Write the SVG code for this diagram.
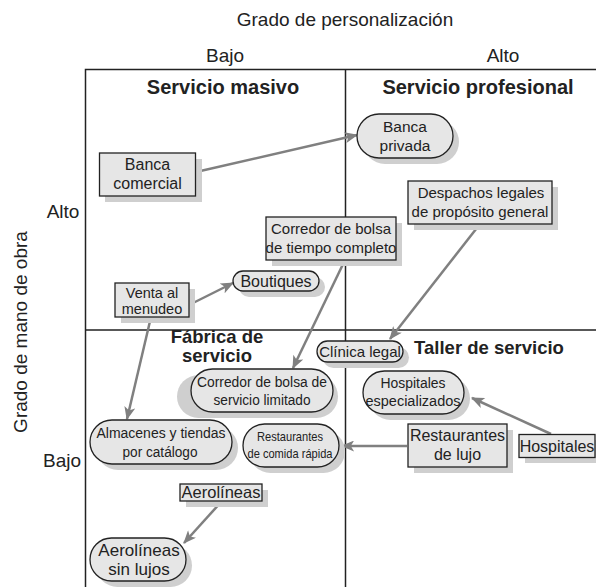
<svg xmlns="http://www.w3.org/2000/svg" width="596" height="587" viewBox="0 0 596 587">
<defs>
<style>
text{font-family:"Liberation Sans",Arial,sans-serif;fill:#222;}
.ax{font-size:19px;}
.q{font-size:20px;font-weight:bold;}
.q2{font-size:18.5px;font-weight:bold;}
.t{font-size:15.5px;text-anchor:middle;}
.s{font-size:13px;text-anchor:middle;}
.box{fill:#e6e6e6;stroke:#222;stroke-width:1.3;}
.sh{fill:#cfcfcf;}
.grid{stroke:#222;stroke-width:1.5;fill:none;}
.con{stroke:#808080;stroke-width:2.5;fill:none;marker-end:url(#ah);}
</style>
<marker id="ah" viewBox="0 0 12 10" refX="11" refY="5" markerWidth="6" markerHeight="4.4" orient="auto" markerUnits="strokeWidth">
<path d="M0,0 L12,5 L0,10 L3,5 z" fill="#808080"/>
</marker>
</defs>
<rect width="596" height="587" fill="#fff"/>
<g id="axes">
<text class="ax" x="345" y="26" text-anchor="middle">Grado de personalización</text>
<text class="ax" x="225" y="62" text-anchor="middle">Bajo</text>
<text class="ax" x="503" y="62" text-anchor="middle">Alto</text>
<text class="ax" x="0" y="0" text-anchor="middle" transform="translate(27,332) rotate(-90)">Grado de mano de obra</text>
<text class="ax" x="63" y="218" text-anchor="middle">Alto</text>
<text class="ax" x="62" y="467" text-anchor="middle">Bajo</text>
</g>
<g id="grid">
<path class="grid" d="M85.5,587 V69.5 H596 M345.5,69.5 V587 M85.5,330 H596"/>
</g>
<g id="quadrants">
<text class="q" x="223" y="94" text-anchor="middle">Servicio masivo</text>
<text class="q" x="478" y="94" text-anchor="middle">Servicio profesional</text>
<text class="q2" x="217" y="343" text-anchor="middle">Fábrica de</text>
<text class="q2" x="217" y="362" text-anchor="middle">servicio</text>
<text class="q2" x="489" y="354" text-anchor="middle">Taller de servicio</text>
</g>
<g id="connectors">
<path class="con" d="M196,172 L357,135"/>
<path class="con" d="M189,305 L233,283"/>
<path class="con" d="M151,317 L127,419"/>
<path class="con" d="M345,260 L293,368"/>
<path class="con" d="M480,224 L390,339"/>
<path class="con" d="M551,434 L472,398"/>
<path class="con" d="M407,446 L342,446"/>
<path class="con" d="M222,501 L184,543"/>
</g>
<g id="banca-comercial">
<rect class="sh" x="105" y="159" width="97" height="43"/>
<rect class="box" x="99.5" y="153" width="96" height="43"/>
<text class="t" x="147.5" y="170" style="font-size:16px">Banca</text>
<text class="t" x="147.5" y="189" style="font-size:16px">comercial</text>
</g>
<g id="banca-privada">
<rect class="sh" x="363" y="120" width="96" height="44" rx="22"/>
<rect class="box" x="357" y="114" width="96" height="44" rx="22"/>
<text class="t" x="405" y="132">Banca</text>
<text class="t" x="405" y="151">privada</text>
</g>
<g id="despachos">
<rect class="sh" x="414" y="187" width="144" height="43"/>
<rect class="box" x="408" y="181" width="144" height="43"/>
<text class="t" x="481" y="198" style="font-size:15px">Despachos legales</text>
<text class="t" x="480" y="217" style="font-size:15px">de propósito general</text>
</g>
<g id="corredor-completo">
<rect class="sh" x="272" y="223" width="130" height="43"/>
<rect class="box" x="266" y="217" width="130" height="43"/>
<text class="t" x="331" y="234" style="font-size:15px">Corredor de bolsa</text>
<text class="t" x="331" y="253" style="font-size:15px">de tiempo completo</text>
</g>
<g id="boutiques">
<rect class="sh" x="239" y="277" width="86" height="20" rx="10"/>
<rect class="box" x="233" y="271" width="86" height="20" rx="10"/>
<text class="t" x="276" y="286.5" style="font-size:16px">Boutiques</text>
</g>
<g id="venta-menudeo">
<rect class="sh" x="121" y="289" width="74" height="34"/>
<rect class="box" x="115" y="283" width="74" height="34"/>
<text class="t" x="152" y="297.5" style="font-size:14.5px">Venta al</text>
<text class="t" x="152" y="313.5" style="font-size:14.5px">menudeo</text>
</g>
<g id="clinica-legal">
<rect class="sh" x="323" y="347" width="86" height="21" rx="10.5"/>
<rect class="box" x="317" y="341" width="86" height="21" rx="10.5"/>
<text class="t" x="360" y="357" style="font-size:15px">Clínica legal</text>
</g>
<g id="corredor-limitado">
<rect class="sh" x="177" y="375" width="161" height="43" rx="21.5"/>
<rect class="box" x="191" y="369" width="142" height="43" rx="21.5"/>
<text class="t" x="262" y="387" textLength="130" lengthAdjust="spacingAndGlyphs">Corredor de bolsa de</text>
<text class="t" x="262" y="405" textLength="97" lengthAdjust="spacingAndGlyphs">servicio limitado</text>
</g>
<g id="hospitales-especializados">
<rect class="sh" x="369" y="377" width="101" height="43" rx="21.5"/>
<rect class="box" x="363" y="371" width="101" height="43" rx="21.5"/>
<text class="t" x="413" y="388" textLength="65" lengthAdjust="spacingAndGlyphs">Hospitales</text>
<text class="t" x="413" y="406" textLength="95" lengthAdjust="spacingAndGlyphs">especializados</text>
</g>
<g id="almacenes">
<rect class="sh" x="96" y="426" width="142" height="44" rx="22"/>
<rect class="box" x="90" y="420" width="142" height="44" rx="22"/>
<text class="t" x="161" y="438" textLength="129" lengthAdjust="spacingAndGlyphs">Almacenes y tiendas</text>
<text class="t" x="160" y="457" textLength="75" lengthAdjust="spacingAndGlyphs">por catálogo</text>
</g>
<g id="restaurantes-rapida">
<rect class="sh" x="249" y="430" width="96" height="43" rx="21.5"/>
<rect class="box" x="243" y="424" width="96" height="43" rx="21.5"/>
<text class="s" x="290" y="441" textLength="66" lengthAdjust="spacingAndGlyphs">Restaurantes</text>
<text class="s" x="290" y="458" textLength="85" lengthAdjust="spacingAndGlyphs">de comida rápida</text>
</g>
<g id="restaurantes-lujo">
<rect class="sh" x="414" y="430" width="99" height="43"/>
<rect class="box" x="408" y="424" width="99" height="43"/>
<text class="t" x="457.5" y="441" style="font-size:16px">Restaurantes</text>
<text class="t" x="457.5" y="460" style="font-size:16px">de lujo</text>
</g>
<g id="hospitales">
<rect class="sh" x="525" y="440" width="71" height="23"/>
<rect class="box" x="519" y="434.5" width="76" height="23"/>
<text class="t" x="557" y="451.5" style="font-size:16px">Hospitales</text>
</g>
<g id="aerolineas">
<rect class="sh" x="186" y="490" width="82" height="17"/>
<rect class="box" x="180" y="484" width="82" height="17"/>
<text class="t" x="221" y="498" style="font-size:16.5px">Aerolíneas</text>
</g>
<g id="aerolineas-sin-lujos">
<rect class="sh" x="96" y="544" width="96" height="43" rx="21.5"/>
<rect class="box" x="90" y="538" width="96" height="43" rx="21.5"/>
<text class="t" x="139" y="556" style="font-size:17px">Aerolíneas</text>
<text class="t" x="139" y="575" style="font-size:17px">sin lujos</text>
</g>
</svg>
